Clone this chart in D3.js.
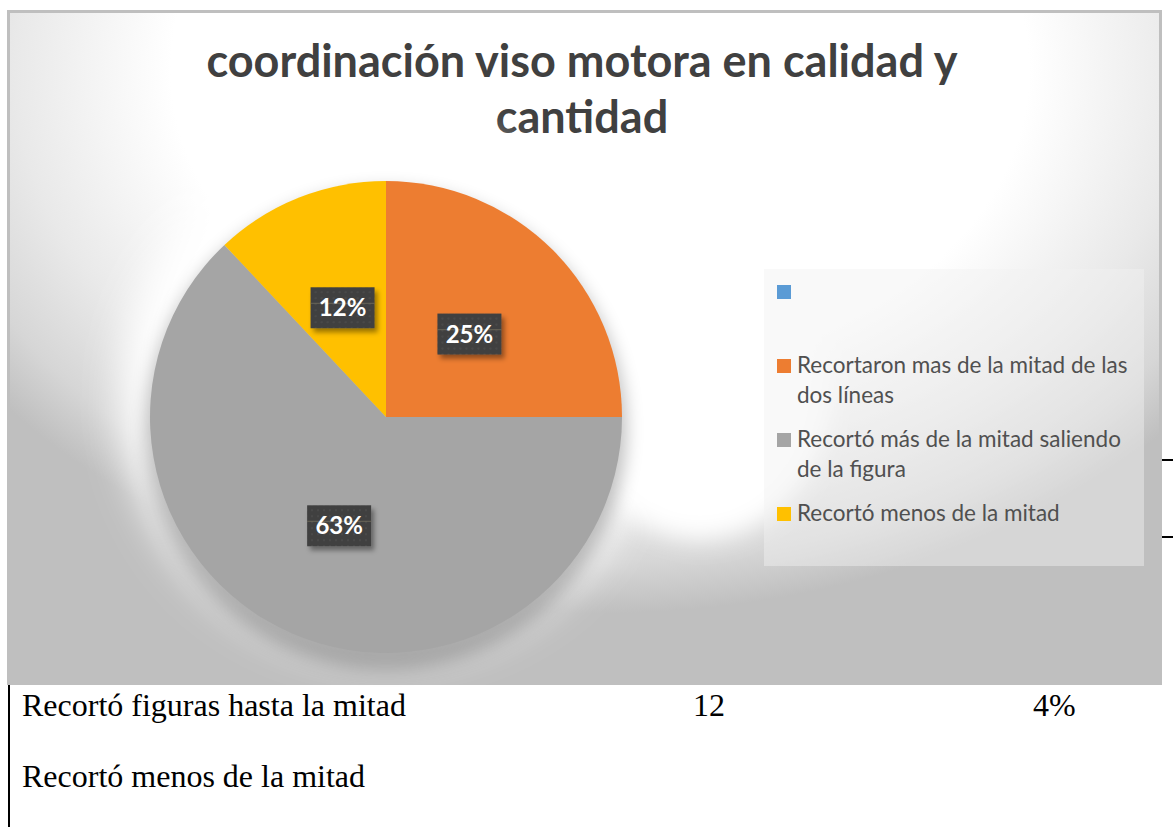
<!DOCTYPE html>
<html>
<head>
<meta charset="utf-8">
<script src="https://cdn.jsdelivr.net/npm/d3@7.9.0/dist/d3.min.js"></script>
<style>
  body { margin: 0; background: #fff; }
  svg { display: block; }
</style>
</head>
<body>
<svg id="chart" width="1173" height="827"></svg>
<script>
// chart data
const categories = [
  "",
  "Recortaron mas de la mitad de las dos líneas",
  "Recortó más de la mitad saliendo de la figura",
  "Recortó menos de la mitad"
];
const values = [0, 25, 63, 12];
const sliceColors = ["#5B9BD5", "#ED7D31", "#A5A5A5", "#FFC000"];
const titleLines = ["coordinación viso motora en calidad y", "cantidad"];

// table text that shows under the chart
const tableRows = ["Recortó figuras hasta la mitad", "Recortó menos de la mitad"];
const tableCounts = ["12", ""];
const tablePercents = ["4%", ""];

const svg = d3.select('#chart');
const defs = svg.append('defs');

// background: gray with a big white radial light
let bg = defs.append('radialGradient')
  .attr('id', 'bgGlow')
  .attr('gradientUnits', 'userSpaceOnUse')
  .attr('cx', 0).attr('cy', 0).attr('r', 1)
  .attr('gradientTransform', 'translate(600,70) scale(780,560)');
[[0, '#ffffff'], [0.55, '#ffffff'], [0.75, '#e9e9e9'], [0.88, '#d6d6d6'], [0.97, '#bfbfbf'], [1, '#bfbfbf']]
  .forEach(([o, c]) => bg.append('stop').attr('offset', o).attr('stop-color', c));

defs.append('filter').attr('id', 'blurBig')
  .attr('x', '-30%').attr('y', '-30%').attr('width', '160%').attr('height', '160%')
  .append('feGaussianBlur').attr('stdDeviation', 20);
defs.append('filter').attr('id', 'blurMid')
  .attr('x', '-30%').attr('y', '-30%').attr('width', '160%').attr('height', '160%')
  .append('feGaussianBlur').attr('stdDeviation', 12);
defs.append('filter').attr('id', 'blurSmall')
  .attr('x', '-30%').attr('y', '-30%').attr('width', '160%').attr('height', '160%')
  .append('feGaussianBlur').attr('stdDeviation', 9);

let ds = defs.append('filter').attr('id', 'labelShadow')
  .attr('x', '-30%').attr('y', '-30%').attr('width', '170%').attr('height', '180%');
ds.append('feDropShadow').attr('dx', 3).attr('dy', 4).attr('stdDeviation', 2.5)
  .attr('flood-color', '#000').attr('flood-opacity', 0.4);

// dotted texture for the data label boxes
let pat = defs.append('pattern').attr('id', 'dots')
  .attr('patternUnits', 'userSpaceOnUse').attr('width', 6).attr('height', 6);
pat.append('rect').attr('width', 6).attr('height', 6).attr('fill', '#3f3f3f');
pat.append('circle').attr('cx', 3).attr('cy', 3).attr('r', 1.2).attr('fill', '#4a4a4a');

// chart area
const box = { x: 7, y: 10, w: 1155, h: 675 };
svg.append('rect')
  .attr('x', box.x).attr('y', box.y).attr('width', box.w).attr('height', box.h)
  .attr('fill', 'url(#bgGlow)');

// light spot between the pie and the legend
svg.append('ellipse')
  .attr('cx', 700).attr('cy', 390).attr('rx', 130).attr('ry', 150)
  .attr('fill', '#fff').attr('filter', 'url(#blurMid)');

svg.append('rect')
  .attr('x', box.x + 1.5).attr('y', box.y + 1.5).attr('width', box.w - 3).attr('height', box.h - 3)
  .attr('fill', 'none').attr('stroke', '#bfbfbf').attr('stroke-width', 3);

// title
svg.append('text')
  .attr('x', 582).attr('y', 77)
  .attr('text-anchor', 'middle')
  .attr('font-family', 'Lato, sans-serif').attr('font-weight', 'bold')
  .attr('font-size', 45).attr('fill', '#404040')
  .selectAll('tspan').data(titleLines).join('tspan')
  .attr('x', 582).attr('dy', (d, i) => i === 0 ? 0 : 56)
  .text(d => d);

// pie
const cx = 386, cy = 417, radius = 236;
const pieGroup = svg.append('g').attr('transform', `translate(${cx},${cy})`);

// white glow above and soft shadow below the pie
pieGroup.append('circle').attr('cy', -25).attr('r', radius + 28)
  .attr('fill', '#fff').attr('filter', 'url(#blurBig)');
pieGroup.append('circle').attr('cy', 12).attr('r', radius + 4)
  .attr('fill', '#000').attr('opacity', 0.25).attr('filter', 'url(#blurSmall)');

let sliceGenerator = d3.pie().sort(null).value(d => d).startAngle(0).endAngle(2 * Math.PI);
let arcData = sliceGenerator(values);
let arcGenerator = d3.arc().innerRadius(0).outerRadius(radius);
let colors = d3.scaleOrdinal().domain(categories).range(sliceColors);

pieGroup.selectAll('path.slice')
  .data(arcData.filter(d => d.value > 0))
  .join('path')
  .attr('class', 'slice')
  .attr('d', arcGenerator)
  .attr('fill', d => colors(categories[d.index]));

// data labels
const total = d3.sum(values);
const fmt = d3.format('.0%');
let labels = pieGroup.selectAll('g.lbl')
  .data(arcData.filter(d => d.value > 0))
  .join('g')
  .attr('class', 'lbl')
  .attr('transform', d => `translate(${arcGenerator.centroid(d)})`);
labels.append('rect')
  .attr('x', -32).attr('y', -20).attr('width', 64).attr('height', 41)
  .attr('fill', 'url(#dots)').attr('filter', 'url(#labelShadow)');
labels.append('line')
  .attr('x1', -32).attr('x2', 32).attr('y1', -4).attr('y2', -4)
  .attr('stroke', '#77725f').attr('stroke-opacity', 0.6).attr('stroke-width', 1.2);
labels.append('text')
  .attr('text-anchor', 'middle').attr('y', 9)
  .attr('font-family', 'Lato, sans-serif').attr('font-weight', 'bold')
  .attr('font-size', 24).attr('fill', '#fff')
  .text(d => fmt(d.value / total));

// legend
svg.append('rect')
  .attr('x', 764).attr('y', 269).attr('width', 380).attr('height', 297)
  .attr('fill', '#f2f2f2').attr('fill-opacity', 0.45);

let legendY = d3.scalePoint().domain(categories).range([285, 507]);
let legend = svg.append('g').attr('font-family', 'Lato, sans-serif')
  .attr('font-size', 22.5).attr('fill', '#505050');

categories.forEach((cat) => {
  let y = legendY(cat);
  legend.append('rect')
    .attr('x', 777).attr('y', y).attr('width', 14).attr('height', 14)
    .attr('fill', colors(cat));
  // wrap the label inside the legend box
  let words = cat.split(' ').filter(w => w);
  let t = legend.append('text').attr('x', 797).attr('y', y + 14);
  let line = [];
  let ts = t.append('tspan').attr('x', 797).attr('dy', 0);
  words.forEach((w) => {
    line.push(w);
    ts.text(line.join(' '));
    if (ts.node().getComputedTextLength() > 338 && line.length > 1) {
      line.pop();
      ts.text(line.join(' '));
      line = [w];
      ts = t.append('tspan').attr('x', 797).attr('dy', 30).text(w);
    }
  });
});

// document table peeking under the chart
svg.append('line')
  .attr('x1', 9).attr('x2', 9).attr('y1', 685).attr('y2', 827)
  .attr('stroke', '#000').attr('stroke-width', 2);
[460, 537].forEach((y) => {
  svg.append('line')
    .attr('x1', 1162).attr('x2', 1173).attr('y1', y).attr('y2', y)
    .attr('stroke', '#000').attr('stroke-width', 2);
});

let table = svg.append('g')
  .attr('font-family', '"Liberation Serif", "Times New Roman", serif')
  .attr('font-size', 32).attr('fill', '#000');
tableRows.forEach((row, i) => {
  let y = 716 + i * 71;
  table.append('text').attr('x', 22).attr('y', y).text(row);
  table.append('text').attr('x', 693).attr('y', y).text(tableCounts[i]);
  table.append('text').attr('x', 1033).attr('y', y).text(tablePercents[i]);
});
</script>
</body>
</html>
